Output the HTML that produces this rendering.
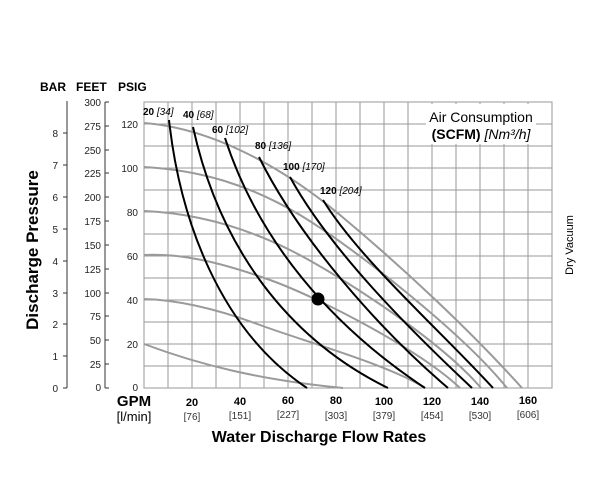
<!DOCTYPE html>
<html><head><meta charset="utf-8"><style>
html,body{margin:0;padding:0;background:#fff;}
svg{display:block;font-family:"Liberation Sans",sans-serif;}
</style></head><body>
<svg width="600" height="500" viewBox="0 0 600 500" xmlns="http://www.w3.org/2000/svg">
<rect width="600" height="500" fill="#fff"/>
<!-- grid -->
<g stroke="#999" stroke-width="1">
<line x1="168" y1="102" x2="168" y2="388"/><line x1="192" y1="102" x2="192" y2="388"/>
<line x1="216" y1="102" x2="216" y2="388"/><line x1="240" y1="102" x2="240" y2="388"/>
<line x1="264" y1="102" x2="264" y2="388"/><line x1="288" y1="102" x2="288" y2="388"/>
<line x1="312" y1="102" x2="312" y2="388"/><line x1="336" y1="102" x2="336" y2="388"/>
<line x1="360" y1="102" x2="360" y2="388"/><line x1="384" y1="102" x2="384" y2="388"/>
<line x1="408" y1="102" x2="408" y2="388"/><line x1="432" y1="102" x2="432" y2="388"/>
<line x1="456" y1="102" x2="456" y2="388"/><line x1="480" y1="102" x2="480" y2="388"/>
<line x1="504" y1="102" x2="504" y2="388"/><line x1="528" y1="102" x2="528" y2="388"/>
<line x1="144" y1="124" x2="552" y2="124"/><line x1="144" y1="146" x2="552" y2="146"/>
<line x1="144" y1="168" x2="552" y2="168"/><line x1="144" y1="190" x2="552" y2="190"/>
<line x1="144" y1="212" x2="552" y2="212"/><line x1="144" y1="234" x2="552" y2="234"/>
<line x1="144" y1="256" x2="552" y2="256"/><line x1="144" y1="278" x2="552" y2="278"/>
<line x1="144" y1="300" x2="552" y2="300"/><line x1="144" y1="322" x2="552" y2="322"/>
<line x1="144" y1="344" x2="552" y2="344"/><line x1="144" y1="366" x2="552" y2="366"/>
<rect x="144" y="102" width="408" height="286" fill="none"/>
</g>
<!-- legend -->
<rect x="426" y="104" width="110" height="40" fill="#fff"/>
<text x="481" y="122" font-size="14" text-anchor="middle">Air Consumption</text>
<text x="481" y="139" font-size="14" text-anchor="middle"><tspan font-weight="bold">(SCFM)</tspan> <tspan font-style="italic">[Nm³/h]</tspan></text>
<!-- gray pressure curves -->
<g fill="none" stroke="#9a9a9a" stroke-width="2">
<path d="M144,123 C210,128 280,165 340,215 S470,330 522,388"/>
<path d="M144,167 C200,170 250,185 300,215 S460,330 507,388"/>
<path d="M144,211 C190,213 240,225 290,250 S440,340 481,388"/>
<path d="M144,255 C180,253 220,262 270,280 S420,350 460,388"/>
<path d="M144,299 C180,300 220,310 260,325 S390,365 425,388"/>
<path d="M144,344 C200,365 260,380 343,388"/>
</g>
<!-- black air curves -->
<g fill="none" stroke="#000" stroke-width="2">
<path d="M169,120 C180,220 220,330 307,388"/>
<path d="M193,127 C220,250 290,340 388,388"/>
<path d="M225,138 C258,240 330,325 425,388"/>
<path d="M259,157 C300,240 380,330 448,388"/>
<path d="M290,177 C330,250 410,330 472,388"/>
<path d="M323,200 C360,260 440,330 493,388"/>
</g>
<circle cx="318" cy="299" r="6.5" fill="#000"/>
<g font-size="10">
<text x="143" y="115"><tspan font-weight="bold">20</tspan> <tspan font-style="italic">[34]</tspan></text>
<text x="183" y="118"><tspan font-weight="bold">40</tspan> <tspan font-style="italic">[68]</tspan></text>
<text x="212" y="133"><tspan font-weight="bold">60</tspan> <tspan font-style="italic">[102]</tspan></text>
<text x="255" y="149"><tspan font-weight="bold">80</tspan> <tspan font-style="italic">[136]</tspan></text>
<text x="283" y="170"><tspan font-weight="bold">100</tspan> <tspan font-style="italic">[170]</tspan></text>
<text x="320" y="194"><tspan font-weight="bold">120</tspan> <tspan font-style="italic">[204]</tspan></text>
</g>
<!-- left axes -->
<g font-size="12" font-weight="bold">
<text x="40" y="91">BAR</text><text x="76" y="91">FEET</text><text x="118" y="91">PSIG</text>
</g>
<g stroke="#333" stroke-width="1">
<line x1="67" y1="101" x2="67" y2="388"/>
<line x1="63" y1="388" x2="67" y2="388"/><line x1="63" y1="356" x2="67" y2="356"/>
<line x1="63" y1="324" x2="67" y2="324"/><line x1="63" y1="293" x2="67" y2="293"/>
<line x1="63" y1="261" x2="67" y2="261"/><line x1="63" y1="229" x2="67" y2="229"/>
<line x1="63" y1="197" x2="67" y2="197"/><line x1="63" y1="165" x2="67" y2="165"/>
<line x1="63" y1="133" x2="67" y2="133"/>
<line x1="105" y1="102" x2="105" y2="388"/>
<line x1="105" y1="102" x2="109" y2="102"/><line x1="105" y1="126" x2="109" y2="126"/>
<line x1="105" y1="150" x2="109" y2="150"/><line x1="105" y1="173" x2="109" y2="173"/>
<line x1="105" y1="197" x2="109" y2="197"/><line x1="105" y1="221" x2="109" y2="221"/>
<line x1="105" y1="245" x2="109" y2="245"/><line x1="105" y1="269" x2="109" y2="269"/>
<line x1="105" y1="293" x2="109" y2="293"/><line x1="105" y1="316" x2="109" y2="316"/>
<line x1="105" y1="340" x2="109" y2="340"/><line x1="105" y1="364" x2="109" y2="364"/>
<line x1="105" y1="388" x2="109" y2="388"/>
</g>
<g font-size="10" text-anchor="end" fill="#222">
<text x="58" y="392">0</text><text x="58" y="360">1</text><text x="58" y="328">2</text>
<text x="58" y="297">3</text><text x="58" y="265">4</text><text x="58" y="233">5</text>
<text x="58" y="201">6</text><text x="58" y="169">7</text><text x="58" y="137">8</text>
<text x="101" y="391">0</text><text x="101" y="368">25</text><text x="101" y="344">50</text>
<text x="101" y="320">75</text><text x="101" y="297">100</text><text x="101" y="273">125</text>
<text x="101" y="249">150</text><text x="101" y="225">175</text><text x="101" y="201">200</text>
<text x="101" y="177">225</text><text x="101" y="154">250</text><text x="101" y="130">275</text>
<text x="101" y="106">300</text>
<text x="138" y="391">0</text><text x="138" y="348">20</text><text x="138" y="304">40</text>
<text x="138" y="260">60</text><text x="138" y="216">80</text><text x="138" y="172">100</text>
<text x="138" y="128">120</text>
</g>
<text transform="translate(38,250) rotate(-90)" font-size="17" font-weight="bold" text-anchor="middle">Discharge Pressure</text>
<text transform="translate(573,245) rotate(-90)" font-size="11" text-anchor="middle">Dry Vacuum</text>
<!-- bottom axis -->
<text x="134" y="406" font-size="15" font-weight="bold" text-anchor="middle">GPM</text>
<text x="134" y="421" font-size="13" text-anchor="middle">[l/min]</text>
<g font-size="11" font-weight="bold" text-anchor="middle">
<text x="192" y="406">20</text><text x="240" y="405">40</text><text x="288" y="404">60</text>
<text x="336" y="404">80</text><text x="384" y="405">100</text><text x="432" y="405">120</text>
<text x="480" y="405">140</text><text x="528" y="404">160</text>
</g>
<g font-size="10" text-anchor="middle" fill="#333">
<text x="192" y="420">[76]</text><text x="240" y="419">[151]</text><text x="288" y="418">[227]</text>
<text x="336" y="419">[303]</text><text x="384" y="419">[379]</text><text x="432" y="419">[454]</text>
<text x="480" y="419">[530]</text><text x="528" y="418">[606]</text>
</g>
<text x="319" y="442" font-size="16" font-weight="bold" text-anchor="middle">Water Discharge Flow Rates</text>
</svg>
</body></html>
